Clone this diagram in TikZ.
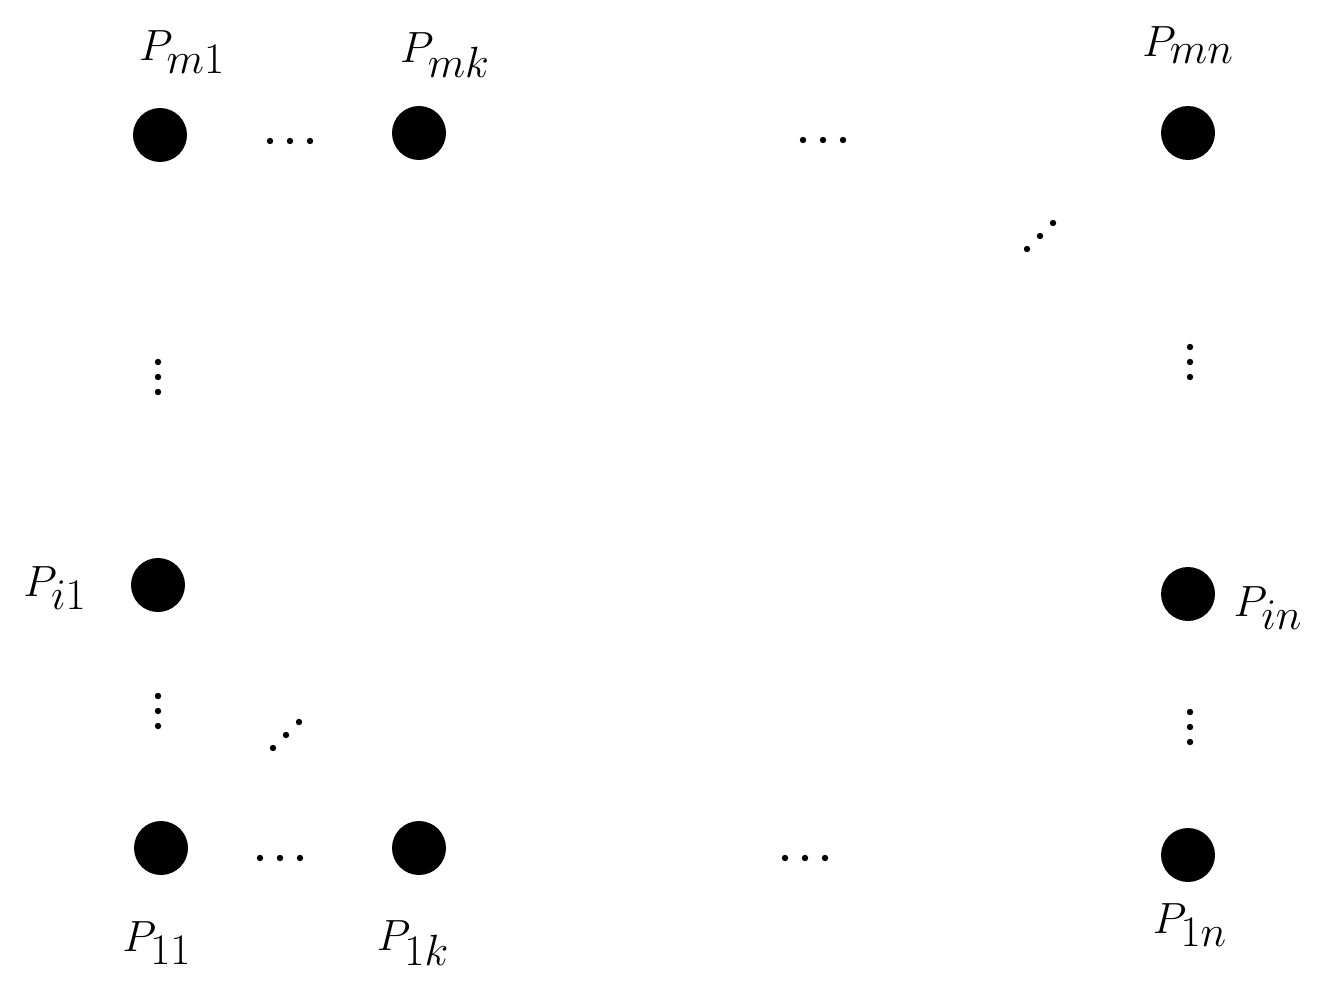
\documentclass[tikz,border=0pt]{standalone}
\begin{document}
\begin{tikzpicture}[x=0.02cm,y=-0.02cm,
  pt/.style={circle,fill=black,inner sep=0pt,minimum size=1.08cm},
  lab/.style={font=\fontsize{44}{48}\selectfont},
  sd/.style={fill=black}]
\useasboundingbox (0,0) rectangle (1324,987);
\node[pt] (m1) at (160,135) {};
\node[pt] (mk) at (419,133) {};
\node[pt] (mn) at (1188,133) {};
\node[pt] (i1) at (158,585) {};
\node[pt] (in) at (1188,594) {};
\node[pt] (a11) at (161,848) {};
\node[pt] (a1k) at (419,848) {};
\node[pt] (a1n) at (1188,855) {};
\node[lab] (lm1) at (182,52) {$P_{m1}$};
\node[lab] (lmk) at (445,55) {$P_{mk}$};
\node[lab] (lmn) at (1188,45) {$P_{mn}$};
\node[lab] (li1) at (55,588) {$P_{i1}$};
\node[lab] (lin) at (1268,608) {$P_{in}$};
\node[lab] (l11) at (157,943) {$P_{11}$};
\node[lab] (l1k) at (413,943) {$P_{1k}$};
\node[lab] (l1n) at (1190,925) {$P_{1n}$};
% horizontal ellipses
\foreach \cx/\cy in {290/141, 823/140, 280/858, 805/858}
  \foreach \d in {-20,0,20} \fill (\cx+\d,\cy) circle (3.2);
% vertical ellipses
\foreach \cx/\cy in {158/377, 1190/362, 158/711, 1190/727}
  \foreach \d in {-15,0,15} \fill (\cx,\cy+\d) circle (3.2);
% diagonal ellipses
\foreach \cx/\cy in {1040/236, 286/735}
  \foreach \d in {-13,0,13} \fill (\cx+\d,\cy-\d) circle (3.2);
\end{tikzpicture}
\end{document}
